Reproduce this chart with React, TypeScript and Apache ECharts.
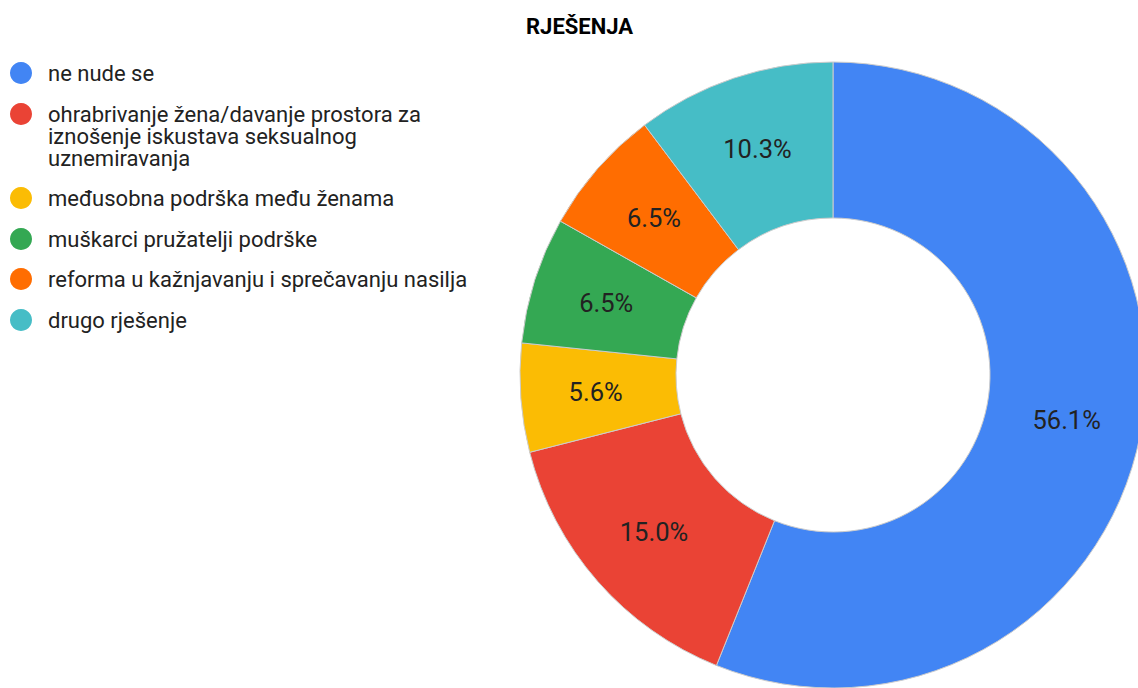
import React, { useEffect, useRef } from "react";
import * as echarts from "echarts";

const title = "RJEŠENJA";
const categories = [
  "ne nude se",
  "ohrabrivanje žena/davanje prostora za iznošenje iskustava seksualnog uznemiravanja",
  "međusobna podrška među ženama",
  "muškarci pružatelji podrške",
  "reforma u kažnjavanju i sprečavanju nasilja",
  "drugo rješenje",
];
const values = [60, 16, 6, 7, 7, 11];
const colors = ["#4285F4", "#EA4335", "#FBBC04", "#34A853", "#FF6D01", "#46BDC6"];

const FONT = "Roboto, 'Noto Sans', Arial, sans-serif";
const LEGEND_FONT_SIZE = 22;

function wrapText(text: string, maxWidth: number): string {
  const canvas = document.createElement("canvas");
  const ctx = canvas.getContext("2d")!;
  ctx.font = `${LEGEND_FONT_SIZE}px ${FONT}`;
  const words = text.split(" ");
  const lines: string[] = [];
  let cur = "";
  words.forEach((w) => {
    const test = cur ? cur + " " + w : w;
    if (cur && ctx.measureText(test).width > maxWidth) {
      lines.push(cur);
      cur = w;
    } else {
      cur = test;
    }
  });
  if (cur) lines.push(cur);
  return lines.join("\n");
}

export default function App() {
  const ref = useRef<HTMLDivElement>(null);
  useEffect(() => {
    document.body.style.margin = "0";
    const chart = echarts.init(ref.current!, null, { renderer: "svg" });
    const total = values.reduce((a, b) => a + b, 0);

    const legendItems: any[] = [];
    const itemYs = [73, 114, 198, 239, 279, 320];
    categories.forEach((name, i) => {
      const y = itemYs[i];
      legendItems.push({
        type: "circle",
        shape: { cx: 21, cy: y, r: 11 },
        style: { fill: colors[i] },
        silent: true,
      });
      legendItems.push({
        type: "text",
        x: 48,
        y: y - 11,
        style: {
          text: wrapText(name, 425),
          fill: "#222222",
          fontSize: LEGEND_FONT_SIZE,
          fontFamily: FONT,
          lineHeight: 22,
          verticalAlign: "top",
        },
        silent: true,
      });
    });

    chart.setOption({
      animation: false,
      backgroundColor: "#ffffff",
      title: {
        text: title,
        left: 521,
        top: 10,
        textStyle: {
          fontFamily: FONT,
          fontSize: 22,
          fontWeight: "bold",
          color: "#000000",
        },
      },
      graphic: legendItems,
      series: [
        {
          type: "pie",
          center: [833, 375],
          radius: [157, 313],
          startAngle: 90,
          clockwise: true,
          avoidLabelOverlap: false,
          itemStyle: { borderColor: "#cccccc", borderWidth: 1 },
          label: {
            show: true,
            position: "inside",
            fontFamily: FONT,
            fontSize: 25.5,
            color: "#222222",
            formatter: (p: any) => ((p.value / total) * 100).toFixed(1) + "%",
          },
          labelLine: { show: false },
          emphasis: { disabled: true },
          data: categories.map((name, i) => ({
            name,
            value: values[i],
            itemStyle: { color: colors[i] },
          })),
        },
      ],
    });
    return () => chart.dispose();
  }, []);
  return <div ref={ref} style={{ width: 1138, height: 688 }} />;
}
